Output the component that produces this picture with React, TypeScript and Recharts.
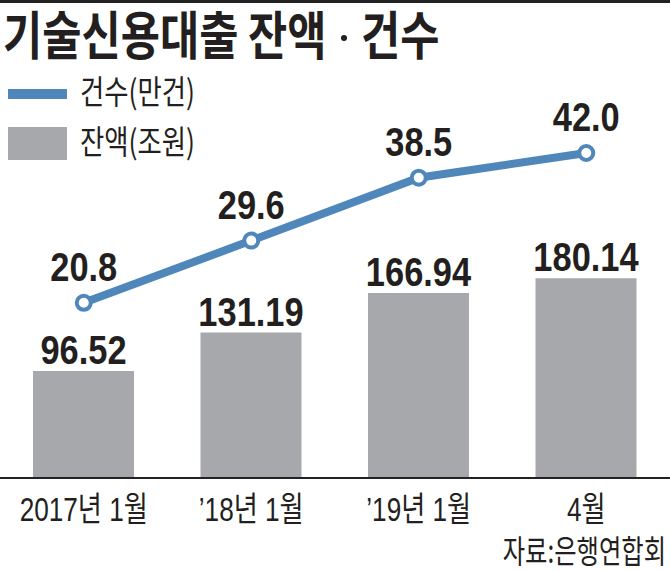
import React from "react";
import {
  ComposedChart,
  Bar,
  Line,
  XAxis,
  YAxis,
  LabelList,
} from "recharts";

const categories = ["2017년 1월", "’18년 1월", "’19년 1월", "4월"];
const balance = [96.52, 131.19, 166.94, 180.14];
const counts = [20.8, 29.6, 38.5, 42.0];

const titleMain = "기술신용대출 잔액";
const titleTail = "건수";
const countName = "건수(만건)";
const balanceName = "잔액(조원)";
const source = "자료:은행연합회";

const data = categories.map((name, i) => ({
  name,
  balance: balance[i],
  counts: counts[i],
}));

const BLUE = "#4f87bb";
const GRAY = "#a7a8ac";
const INK = "#231f20";
const NUM_FONT = "'Liberation Sans', Arial, 'Noto Sans CJK KR', sans-serif";
const KR_FONT = "'Noto Sans CJK KR', 'Noto Sans', sans-serif";

// text squeezed horizontally, like the condensed newspaper face
function Squeezed({ x, y, sx, size, weight = 400, anchor = "start", font = KR_FONT, children }: any) {
  return (
    <g transform={`translate(${x},${y}) scale(${sx},1)`}>
      <text
        textAnchor={anchor}
        fontFamily={font}
        fontWeight={weight}
        fontSize={size}
        fill={INK}
      >
        {children}
      </text>
    </g>
  );
}

function XTick({ x, y, payload }: any) {
  return (
    <Squeezed x={x} y={y + 43} sx={0.77} size={34} anchor="middle" font={NUM_FONT}>
      {payload.value}
    </Squeezed>
  );
}

function BarValue({ x, y, width, value }: any) {
  const cx = Number(x) + Number(width) / 2;
  return (
    <Squeezed x={cx} y={Number(y) - 7} sx={0.84} size={41} weight={700} anchor="middle" font={NUM_FONT}>
      {Number(value).toFixed(2)}
    </Squeezed>
  );
}

function LineValue({ x, y, value }: any) {
  return (
    <Squeezed x={x} y={Number(y) - 22} sx={0.84} size={41} weight={700} anchor="middle" font={NUM_FONT}>
      {Number(value).toFixed(1)}
    </Squeezed>
  );
}

export default function App() {
  return (
    <div
      style={{
        position: "absolute",
        left: 0,
        top: 0,
        width: 670,
        height: 571,
        background: "#fff",
        overflow: "hidden",
      }}
    >
      <ComposedChart
        width={670}
        height={571}
        data={data}
        margin={{ top: 100, right: 0, left: 0, bottom: 10 }}
        barSize={101}
        style={{ position: "absolute", left: 0, top: 0 }}
      >
        <XAxis
          dataKey="name"
          height={83}
          tickSize={0}
          tickMargin={0}
          tickLine={false}
          axisLine={{ stroke: "#222", strokeWidth: 2 }}
          tick={<XTick />}
          interval={0}
        />
        <YAxis yAxisId="bal" hide domain={[0, 341]} />
        <YAxis yAxisId="cnt" hide domain={[-4, 49.5]} />
        <Bar yAxisId="bal" dataKey="balance" fill={GRAY} isAnimationActive={false}>
          <LabelList dataKey="balance" content={<BarValue />} />
        </Bar>
        <Line
          yAxisId="cnt"
          dataKey="counts"
          stroke={BLUE}
          strokeWidth={8}
          dot={{ r: 7, fill: "#fff", stroke: BLUE, strokeWidth: 4 }}
          activeDot={false}
          isAnimationActive={false}
        >
          <LabelList dataKey="counts" content={<LineValue />} />
        </Line>
      </ComposedChart>
      <svg
        width={670}
        height={571}
        style={{ position: "absolute", left: 0, top: 0, pointerEvents: "none" }}
      >
        <rect x={0} y={0} width={670} height={3} fill="#222" />
        <Squeezed x={3} y={55} sx={0.82} size={52} weight={700}>
          {titleMain}
        </Squeezed>
        <circle cx={344} cy={38} r={3} fill={INK} />
        <Squeezed x={361} y={55} sx={0.82} size={52} weight={700}>
          {titleTail}
        </Squeezed>
        <rect x={8} y={89} width={59} height={10} fill={BLUE} />
        <Squeezed x={80} y={104} sx={0.8} size={33}>
          {countName}
        </Squeezed>
        <rect x={8} y={127} width={59} height={33} fill={GRAY} />
        <Squeezed x={80} y={154} sx={0.8} size={33}>
          {balanceName}
        </Squeezed>
        <Squeezed x={666} y={563} sx={0.76} size={32} anchor="end">
          {source}
        </Squeezed>
      </svg>
    </div>
  );
}
